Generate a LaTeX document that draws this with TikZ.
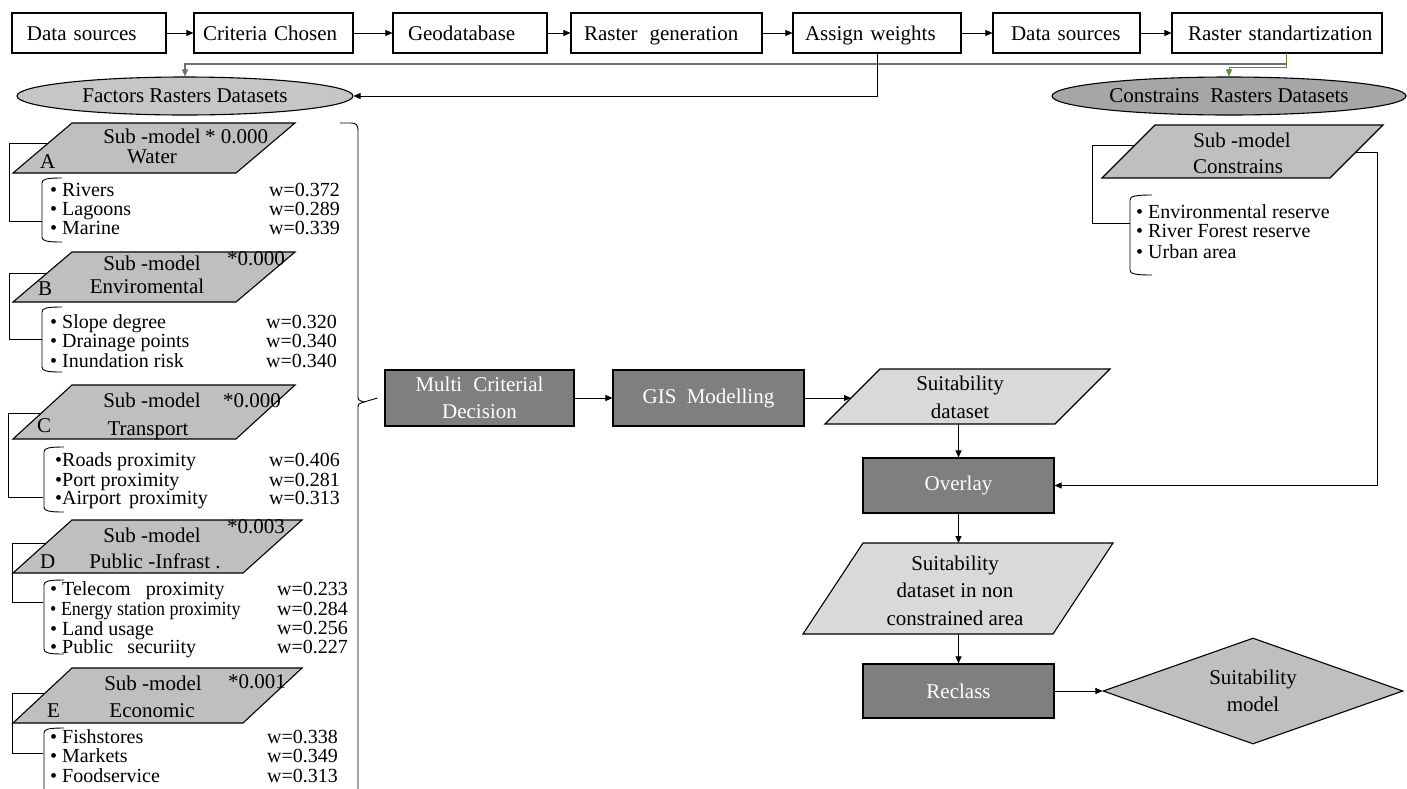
\documentclass[tikz,border=0pt]{standalone}
\usepackage{fontspec}
\usepackage{graphicx}
\setmainfont{Liberation Serif}
\usetikzlibrary{arrows.meta,shapes.geometric}
\definecolor{darkfill}{HTML}{7F7F7F}
\definecolor{lightfill}{HTML}{D9D9D9}
\definecolor{subfill}{HTML}{BFBFBF}
\definecolor{factfill}{HTML}{C6C6C6}
\definecolor{consfill}{HTML}{A6A6A6}
\definecolor{linkgreen}{HTML}{5E8A3A}
\definecolor{linkgray}{HTML}{707070}
\begin{document}
\begin{tikzpicture}[x=1pt,y=-1pt,
  every node/.style={font=\fontsize{21}{21}\selectfont, inner sep=0pt},
  topbox/.style={draw, line width=1.1pt, fill=white, minimum height=40pt, align=left, text height=16pt, text depth=2pt},
  darkbox/.style={draw, line width=1.1pt, fill=darkfill, text=white, align=center, minimum height=56pt, font=\fontsize{21}{27}\selectfont},
  ellbox/.style={ellipse, draw, line width=1.1pt, minimum height=38pt, text height=15pt, text depth=3pt},
  subm/.style={draw, line width=1.1pt, fill=subfill},
  lightp/.style={draw, line width=1.1pt, fill=lightfill},
  conn/.style={line width=0.9pt},
  arr/.style={-{Triangle[length=7pt,width=6pt]}, line width=0.9pt},
  item/.style={anchor=base west, font=\fontsize{20}{20}\selectfont},
  wt/.style={anchor=base east, font=\fontsize{20}{20}\selectfont},
  ctr/.style={anchor=base},
  lft/.style={anchor=base west}
]
\useasboundingbox (0,0) rectangle (1407,788);

% ---------- top row ----------
\node[topbox, text width=154pt] (t1) at (89,33) {\hspace*{15pt}Data sources};
\node[topbox, text width=159pt] (t2) at (273.5,33) {\hspace*{9pt}Criteria Chosen};
\node[topbox, text width=154pt] (t3) at (470,33) {\hspace*{15pt}Geodatabase};
\node[topbox, text width=191pt] (t4) at (666.5,33) {\hspace*{13pt}Raster\hspace{5pt} generation};
\node[topbox, text width=168pt] (t5) at (877,33) {\hspace*{12pt}Assign weights};
\node[topbox, text width=147pt] (t6) at (1066.5,33) {\hspace*{18pt}Data sources};
\node[topbox, text width=210pt] (t7) at (1277,33) {\hspace*{16pt}Raster standartization};
\draw[arr] (t1) -- (t2);
\draw[arr] (t2) -- (t3);
\draw[arr] (t3) -- (t4);
\draw[arr] (t4) -- (t5);
\draw[arr] (t5) -- (t6);
\draw[arr] (t6) -- (t7);

% ---------- ellipses ----------
\node[ellbox, fill=factfill, minimum width=336pt] (fac) at (185,96) {Factors Rasters Datasets};
\node[ellbox, fill=consfill, minimum width=354pt] (con) at (1229,96) {Constrains\hspace{6pt} Rasters Datasets};

\coordinate (gj) at (1286,64);
\coordinate (g0) at (1286,53);
\coordinate (g1) at (1286,67);
\draw[arr, draw=linkgray, line width=1.3pt] (gj) -| (fac.north);
\draw[-{Triangle[length=7pt,width=6pt,fill=linkgreen]}, line width=0.9pt, draw=linkgreen] (g0) -- (g1) -| (con.north);
\draw[arr] (t5.south) |- (fac.east);

% ---------- sub-model A ----------
\draw[subm] (72,123) -- (295,123) -- (236,173) -- (13,173) -- cycle;
\node[ctr] (aS) at (152,143) {Sub -model};
\node[lft] (aV) at (205,143) {* 0.000};
\node[ctr] (aN) at (152,163) {Water};
\node[lft] (aL) at (40,168) {A};
\coordinate (pA) at (48,143);
\coordinate (bA) at (42,221);
\draw[conn] (pA) -- (9,143) |- (bA);
\draw[conn] (62,178) .. controls (47,178) and (42,179) .. (42,183) -- (42,237) .. controls (42,241) and (47,242) .. (62,242);
\node[item] (a1) at (50,196) {• Rivers};
\node[item] (a2) at (50,215) {• Lagoons};
\node[item] (a3) at (50,234) {• Marine};
\node[wt] (aw1) at (340,196) {w=0.372};
\node[wt] (aw2) at (340,215) {w=0.289};
\node[wt] (aw3) at (340,234) {w=0.339};

% ---------- sub-model B ----------
\draw[subm] (72,252) -- (295,252) -- (236,302) -- (13,302) -- cycle;
\node[ctr] (bS) at (152,270) {Sub -model};
\node[lft] (bV) at (227,265) {*0.000};
\node[ctr] (bN) at (147,293) {Enviromental};
\node[lft] (bL) at (38,295) {B};
\coordinate (pB) at (47,273);
\coordinate (bB) at (42,339);
\draw[conn] (pB) -- (9,273) |- (bB);
\draw[conn] (62,307) .. controls (47,307) and (42,308) .. (42,312) -- (42,367) .. controls (42,371) and (47,372) .. (62,372);
\node[item] (b1) at (50,328) {• Slope degree};
\node[item] (b2) at (50,347) {• Drainage points};
\node[item] (b3) at (50,367) {• Inundation risk};
\node[wt] (bw1) at (337,328) {w=0.320};
\node[wt] (bw2) at (337,347) {w=0.340};
\node[wt] (bw3) at (337,367) {w=0.340};

% ---------- sub-model C ----------
\draw[subm] (72,385) -- (295,385) -- (236,439) -- (13,439) -- cycle;
\node[ctr] (cS) at (152,407) {Sub -model};
\node[lft] (cV) at (223,407) {*0.000};
\node[ctr] (cN) at (148,435) {Transport};
\node[lft] (cL) at (37,432) {C};
\coordinate (pC) at (41,413);
\coordinate (bC) at (43,497);
\draw[conn] (pC) -- (8,413) |- (bC);
\draw[conn] (64,447) .. controls (49,447) and (44,448) .. (44,452) -- (44,507) .. controls (44,511) and (49,512) .. (64,512);
\node[item] (c1) at (55,466) {•Roads proximity};
\node[item] (c2) at (55,486) {•Port proximity};
\node[item] (c3) at (55,504) {•Airport\hspace{3pt} proximity};
\node[wt] (cw1) at (340,466) {w=0.406};
\node[wt] (cw2) at (340,486) {w=0.281};
\node[wt] (cw3) at (340,504) {w=0.313};

% ---------- sub-model D ----------
\draw[subm] (72,520) -- (302,520) -- (243,573) -- (13,573) -- cycle;
\node[ctr] (dS) at (152,542) {Sub -model};
\node[lft] (dV) at (227,533) {*0.003};
\node[ctr] (dN) at (155,568) {Public -Infrast .};
\node[lft] (dL) at (40,568) {D};
\coordinate (pD) at (46,543);
\coordinate (bD) at (43,602);
\draw[conn] (pD) -- (12,543) |- (bD);
\draw[conn] (64,580) .. controls (49,580) and (44,581) .. (44,585) -- (44,649) .. controls (44,653) and (49,654) .. (64,654);
\node[item] (d1) at (50,595) {• Telecom\hspace{10pt} proximity};
\node[item] (d2) at (50,615) {\scalebox{0.9}[1]{• Energy station proximity}};
\node[item] (d3) at (50,635) {• Land usage};
\node[item] (d4) at (50,653) {• Public\hspace{9pt} securiity};
\node[wt] (dw1) at (348,595) {w=0.233};
\node[wt] (dw2) at (348,615) {w=0.284};
\node[wt] (dw3) at (348,634) {w=0.256};
\node[wt] (dw4) at (348,653) {w=0.227};

% ---------- sub-model E ----------
\draw[subm] (72,668) -- (302,668) -- (243,723) -- (13,723) -- cycle;
\node[ctr] (eS) at (153,690) {Sub -model};
\node[lft] (eV) at (228,688) {*0.001};
\node[ctr] (eN) at (152,717) {Economic};
\node[lft] (eL) at (47,717) {E};
\coordinate (pE) at (45,693);
\coordinate (bE) at (43,753);
\draw[conn] (pE) -- (12,693) |- (bE);
\draw[conn] (64,728) .. controls (49,728) and (44,729) .. (44,733) -- (44,792);
\node[item] (e1) at (50,743) {• Fishstores};
\node[item] (e2) at (50,762) {• Markets};
\node[item] (e3) at (50,782) {• Foodservice};
\node[wt] (ew1) at (338,743) {w=0.338};
\node[wt] (ew2) at (338,762) {w=0.349};
\node[wt] (ew3) at (338,782) {w=0.313};

% ---------- big brace and middle chain ----------
\node[darkbox, minimum width=189pt] (mcd) at (479.5,398) {Multi\hspace{6pt} Criterial\\Decision};
\node[darkbox, minimum width=191pt] (gis) at (708.5,398) {GIS\hspace{5pt} Modelling};
\coordinate (tip) at (364,402);
\draw[conn] (340,123) -- (351,123) .. controls (356,123) and (358,125) .. (358,130) -- (358,396) .. controls (358,400) .. (tip) .. controls (358,404) .. (358,408) -- (358,792);
\draw[conn] (tip) -- ([xshift=-7pt]mcd.west);
\draw[arr] (mcd) -- (gis);

\draw[lightp] (880,369) -- (1110,369) -- (1055,424) -- (825,424) -- cycle;
\node[ctr] (sd1) at (960,390) {Suitability};
\node[ctr] (sd2) at (960,418) {dataset};
\coordinate (sdL) at (851,398);
\coordinate (sdB) at (958.5,424);
\draw[arr] (gis) -- (sdL);

\node[darkbox, minimum width=191pt, minimum height=55pt] (ovl) at (958.5,485.5) {Overlay};
\draw[arr] (sdB) -- (ovl.north);

% ---------- constrains sub-model ----------
\draw[subm] (1155,125) -- (1383,125) -- (1330,178) -- (1102,178) -- cycle;
\node[ctr] (kS) at (1242,147) {Sub -model};
\node[ctr] (kN) at (1238,173) {Constrains};
\coordinate (pK) at (1135,145);
\coordinate (bK) at (1130,223);
\draw[conn] (pK) -- (1092,145) |- (bK);
\draw[conn] (1152,195) .. controls (1136,195) and (1130,196) .. (1130,200) -- (1130,270) .. controls (1130,274) and (1136,275) .. (1152,275);
\node[item] (k1) at (1136,218) {• Environmental reserve};
\node[item] (k2) at (1136,237) {• River Forest reserve};
\node[item] (k3) at (1136,258) {• Urban area};
\coordinate (kR) at (1356,152);
\draw[arr] (kR) -- (1377,152) |- (ovl.east);

% ---------- lower chain ----------
\draw[lightp] (863,543) -- (1113,543) -- (1053,634) -- (803,634) -- cycle;
\node[ctr] (nc1) at (955,570) {Suitability};
\node[ctr] (nc2) at (955,597) {dataset in non};
\node[ctr] (nc3) at (955,625) {constrained area};
\coordinate (ncT) at (958.5,543);
\coordinate (ncB) at (958.5,634);
\draw[arr] (ovl.south) -- (ncT);

\node[darkbox, minimum width=191pt, minimum height=54pt] (rcl) at (958.5,691) {Reclass};
\draw[arr] (ncB) -- (rcl.north);

\node[diamond, aspect=2.8, draw, line width=1.1pt, fill=subfill, minimum width=300pt, minimum height=106pt, align=center, font=\fontsize{21}{27}\selectfont] (sm) at (1253,691) {Suitability\\model};
\draw[arr] (rcl.east) -- (sm.west);
\end{tikzpicture}
\end{document}
